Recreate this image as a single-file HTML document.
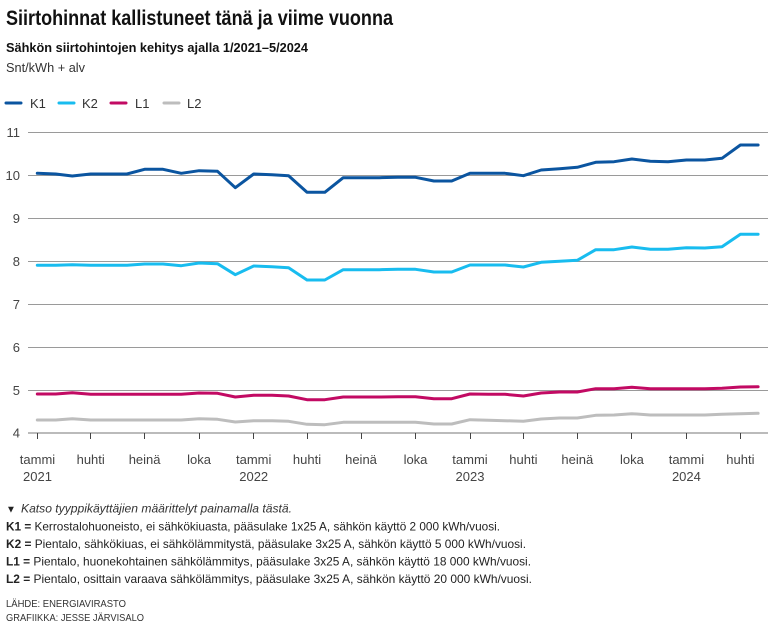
<!DOCTYPE html>
<html><head><meta charset="utf-8"><style>
html,body{margin:0;padding:0;background:#fff;}
svg{display:block;}
text{font-family:"Liberation Sans",sans-serif;}
</style></head><body>
<svg width="779" height="634" viewBox="0 0 779 634" xmlns="http://www.w3.org/2000/svg">
<rect width="779" height="634" fill="#fff"/>
<text x="6" y="25" font-size="21" font-weight="bold" fill="#111" textLength="387" lengthAdjust="spacingAndGlyphs">Siirtohinnat kallistuneet tänä ja viime vuonna</text>
<text x="6" y="52" font-size="13" font-weight="bold" fill="#111" textLength="302" lengthAdjust="spacingAndGlyphs">Sähkön siirtohintojen kehitys ajalla 1/2021–5/2024</text>
<text x="6" y="72" font-size="13" fill="#333" textLength="79" lengthAdjust="spacingAndGlyphs">Snt/kWh + alv</text>
<!-- legend -->
<g stroke-width="3" stroke-linecap="round">
<line x1="6" y1="103" x2="21" y2="103" stroke="#0b55a0"/>
<line x1="59" y1="103" x2="74" y2="103" stroke="#18bcef"/>
<line x1="111" y1="103" x2="126" y2="103" stroke="#c20a63"/>
<line x1="164" y1="103" x2="179" y2="103" stroke="#bdbdbd"/>
</g>
<g font-size="13" fill="#333">
<text x="30" y="108">K1</text>
<text x="82" y="108">K2</text>
<text x="135" y="108">L1</text>
<text x="187" y="108">L2</text>
</g>
<!-- grid -->
<g stroke="#9a9a9a" stroke-width="1">
<line x1="28" y1="132.5" x2="768" y2="132.5"/>
<line x1="28" y1="175.5" x2="768" y2="175.5"/>
<line x1="28" y1="218.5" x2="768" y2="218.5"/>
<line x1="28" y1="261.5" x2="768" y2="261.5"/>
<line x1="28" y1="304.5" x2="768" y2="304.5"/>
<line x1="28" y1="347.5" x2="768" y2="347.5"/>
<line x1="28" y1="390.5" x2="768" y2="390.5"/>
<line x1="28" y1="433" x2="768" y2="433" stroke="#777"/>
</g>
<g font-size="13" fill="#444" text-anchor="end">
<text x="20" y="137">11</text>
<text x="20" y="180">10</text>
<text x="20" y="223">9</text>
<text x="20" y="266">8</text>
<text x="20" y="309">7</text>
<text x="20" y="352">6</text>
<text x="20" y="395">5</text>
<text x="20" y="437.5">4</text>
</g>
<!-- ticks -->
<g stroke="#444" stroke-width="1">
<line x1="37.5" y1="433" x2="37.5" y2="439"/>
<line x1="90.5" y1="433" x2="90.5" y2="439"/>
<line x1="144.5" y1="433" x2="144.5" y2="439"/>
<line x1="199.5" y1="433" x2="199.5" y2="439"/>
<line x1="253.5" y1="433" x2="253.5" y2="439"/>
<line x1="307.5" y1="433" x2="307.5" y2="439"/>
<line x1="361.5" y1="433" x2="361.5" y2="439"/>
<line x1="415.5" y1="433" x2="415.5" y2="439"/>
<line x1="470.5" y1="433" x2="470.5" y2="439"/>
<line x1="523.5" y1="433" x2="523.5" y2="439"/>
<line x1="577.5" y1="433" x2="577.5" y2="439"/>
<line x1="631.5" y1="433" x2="631.5" y2="439"/>
<line x1="686.5" y1="433" x2="686.5" y2="439"/>
<line x1="740.5" y1="433" x2="740.5" y2="439"/>
</g>
<g font-size="13" fill="#444" text-anchor="middle">
<text x="37.5" y="464">tammi</text><text x="37.5" y="481">2021</text>
<text x="90.7" y="464">huhti</text>
<text x="144.6" y="464">heinä</text>
<text x="199.1" y="464">loka</text>
<text x="253.7" y="464">tammi</text><text x="253.7" y="481">2022</text>
<text x="307" y="464">huhti</text>
<text x="361" y="464">heinä</text>
<text x="415.5" y="464">loka</text>
<text x="470" y="464">tammi</text><text x="470" y="481">2023</text>
<text x="523.4" y="464">huhti</text>
<text x="577.3" y="464">heinä</text>
<text x="631.9" y="464">loka</text>
<text x="686.4" y="464">tammi</text><text x="686.4" y="481">2024</text>
<text x="740.4" y="464">huhti</text>
</g>
<!-- series -->
<g fill="none" stroke-width="3" stroke-linejoin="round" stroke-linecap="round">
<polyline stroke="#bdbdbd" points="37.3,420 55.7,420 72.3,418.7 90.7,420 108.4,420 126.8,420 144.6,420 163,420 181.3,420 199.1,418.7 217.5,419.3 235.3,422 253.7,420.7 272,420.7 288.6,421.3 307,424.3 324.8,424.7 343.2,422.3 361,422.3 379.3,422.3 397.7,422.3 415.5,422.3 433.9,424 451.7,424 470,419.7 488.4,420.3 505,420.7 523.4,421.3 541.2,419 559.6,418 577.3,418 595.7,415.3 614.1,415 631.9,413.7 650.3,415 668,415 686.4,415 704.8,415 722,414.3 740.4,413.7 758.1,413.3"/>
<polyline stroke="#c20a63" points="37.3,394 55.7,394 72.3,392.7 90.7,394.3 108.4,394.3 126.8,394.3 144.6,394.3 163,394.3 181.3,394.3 199.1,393 217.5,393.3 235.3,397 253.7,395.3 272,395.3 288.6,396 307,399.7 324.8,399.7 343.2,397 361,397 379.3,397 397.7,396.7 415.5,396.7 433.9,398.7 451.7,398.7 470,394 488.4,394.3 505,394.3 523.4,396 541.2,393 559.6,392 577.3,392 595.7,388.7 614.1,388.7 631.9,387.3 650.3,388.7 668,388.7 686.4,388.7 704.8,388.7 722,388.3 740.4,387 758.1,386.7"/>
<polyline stroke="#18bcef" points="37.3,265.3 55.7,265.3 72.3,264.7 90.7,265.3 108.4,265.3 126.8,265.3 144.6,264 163,264 181.3,265.7 199.1,263 217.5,263.7 235.3,274.7 253.7,266 272,266.7 288.6,267.7 307,280 324.8,280 343.2,269.7 361,269.7 379.3,269.7 397.7,269.3 415.5,269.3 433.9,272 451.7,272 470,265 488.4,265 505,265 523.4,267 541.2,262.3 559.6,261.3 577.3,260.3 595.7,249.7 614.1,249.7 631.9,247 650.3,249.3 668,249.3 686.4,247.7 704.8,248 722,246.7 740.4,234.3 758.1,234.3"/>
<polyline stroke="#0b55a0" points="37.3,173.3 55.7,174 72.3,176 90.7,174 108.4,174 126.8,174 144.6,169.3 163,169.3 181.3,173.3 199.1,170.7 217.5,171.3 235.3,187.7 253.7,174 272,174.7 288.6,175.7 307,192.3 324.8,192.3 343.2,177.7 361,177.7 379.3,177.7 397.7,177.3 415.5,177.3 433.9,181 451.7,181 470,173.3 488.4,173.3 505,173.3 523.4,175.7 541.2,170 559.6,168.7 577.3,167.3 595.7,162.3 614.1,161.7 631.9,159 650.3,161.3 668,161.7 686.4,160 704.8,160 722,158.3 740.4,145 758.1,145"/>
</g>
<!-- notes -->
<text x="6" y="512.5" font-size="10" fill="#222">▼</text>
<text x="21" y="512.5" font-size="12" font-style="italic" fill="#333" textLength="271" lengthAdjust="spacingAndGlyphs">Katso tyyppikäyttäjien määrittelyt painamalla tästä.</text>
<g font-size="12" fill="#222">
<text x="6" y="530.5" textLength="494" lengthAdjust="spacingAndGlyphs"><tspan font-weight="bold">K1 =</tspan> Kerrostalohuoneisto, ei sähkökiuasta, pääsulake 1x25 A, sähkön käyttö 2 000 kWh/vuosi.</text>
<text x="6" y="548" textLength="520" lengthAdjust="spacingAndGlyphs"><tspan font-weight="bold">K2 =</tspan> Pientalo, sähkökiuas, ei sähkölämmitystä, pääsulake 3x25 A, sähkön käyttö 5 000 kWh/vuosi.</text>
<text x="6" y="565.5" textLength="525" lengthAdjust="spacingAndGlyphs"><tspan font-weight="bold">L1 =</tspan> Pientalo, huonekohtainen sähkölämmitys, pääsulake 3x25 A, sähkön käyttö 18 000 kWh/vuosi.</text>
<text x="6" y="583" textLength="526" lengthAdjust="spacingAndGlyphs"><tspan font-weight="bold">L2 =</tspan> Pientalo, osittain varaava sähkölämmitys, pääsulake 3x25 A, sähkön käyttö 20 000 kWh/vuosi.</text>
</g>
<g font-size="10.5" fill="#333">
<text x="6" y="607" textLength="120" lengthAdjust="spacingAndGlyphs">LÄHDE: ENERGIAVIRASTO</text>
<text x="6" y="621" textLength="138" lengthAdjust="spacingAndGlyphs">GRAFIIKKA: JESSE JÄRVISALO</text>
</g>
</svg>
</body></html>
